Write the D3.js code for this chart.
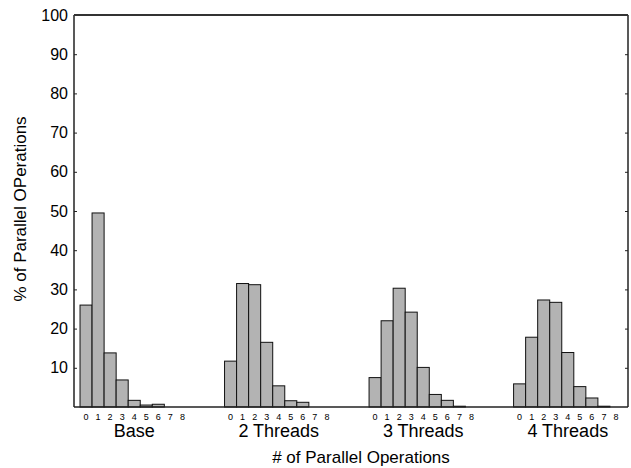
<!DOCTYPE html>
<html><head><meta charset="utf-8">
<script src="https://cdn.jsdelivr.net/npm/d3@7"></script>
<style>body{margin:0;background:#fff}svg{display:block}text{font-family:"Liberation Sans",Arial,sans-serif;fill:#000}</style>
</head><body><svg id="c" width="631" height="468"></svg>
<script>
const groups = ["Base", "2 Threads", "3 Threads", "4 Threads"];
const binLabels = ["0","1","2","3","4","5","6","7","8"];
const baseVals    = [26.0, 49.5, 13.8, 6.9, 1.7, 0.5, 0.7, 0, 0];
const threads2    = [11.7, 31.5, 31.2, 16.5, 5.4, 1.6, 1.2, 0, 0];
const threads3    = [7.5, 22.0, 30.3, 24.2, 10.1, 3.2, 1.7, 0.2, 0];
const threads4    = [5.9, 17.8, 27.3, 26.7, 13.9, 5.2, 2.3, 0.2, 0];
const yTicks = [10,20,30,40,50,60,70,80,90,100];
const series = [baseVals, threads2, threads3, threads4];

const svg = d3.select("#c");
const L=74, R=628, T=15, B=407;
const slotsPerGroup = 12;
const x = d3.scaleLinear().domain([-1, 45]).range([L, R]);
const y = d3.scaleLinear().domain([0, 100]).range([B, T]);
const bw = x(1) - x(0);

// bars
series.forEach((vals, gi) => {
  const g = svg.append("g");
  g.selectAll("rect").data(vals.map((v,i)=>({v,i}))).enter()
    .filter(d => d.v > 0)
    .append("rect")
    .attr("x", d => x(gi*slotsPerGroup + d.i) - bw/2)
    .attr("width", bw)
    .attr("y", d => y(d.v))
    .attr("height", d => y(0) - y(d.v))
    .attr("fill", "#b3b3b3").attr("stroke", "#111").attr("stroke-width", 1);
  g.selectAll("text.bin").data(binLabels).enter().append("text")
    .attr("class","bin")
    .attr("x", (d,i) => x(gi*slotsPerGroup + i))
    .attr("y", 420).attr("text-anchor","middle").attr("font-size", 9).text(d=>d);
  svg.append("text").attr("x", x(gi*slotsPerGroup + 4)).attr("y", 437)
    .attr("text-anchor","middle").attr("font-size", 18).text(groups[gi]);
});

// axes
const yAxisL = d3.axisLeft(y).tickValues(yTicks).tickSizeInner(-3).tickSizeOuter(0).tickPadding(6);
const gL = svg.append("g").attr("transform", `translate(${L},0)`).call(yAxisL);
gL.select(".domain").remove();
gL.selectAll("text").attr("font-size", 16).attr("font-family", '"Liberation Sans",Arial,sans-serif').attr("fill","#000");
gL.selectAll("line").attr("stroke","#222");
const yAxisR = d3.axisRight(y).tickValues(yTicks).tickSizeInner(-3).tickSizeOuter(0).tickFormat("");
const gR = svg.append("g").attr("transform", `translate(${R},0)`).call(yAxisR);
gR.select(".domain").remove();
gR.selectAll("line").attr("stroke","#222");

// frame lines: left, right, top, bottom
svg.append("line").attr("x1",L).attr("x2",L).attr("y1",T).attr("y2",B).attr("stroke","#222").attr("stroke-width",1.5);
svg.append("line").attr("x1",R).attr("x2",R).attr("y1",T).attr("y2",B).attr("stroke","#222").attr("stroke-width",1.5);
svg.append("line").attr("x1",L).attr("x2",R).attr("y1",T).attr("y2",T).attr("stroke","#333").attr("stroke-width",2);
svg.append("line").attr("x1",L).attr("x2",R).attr("y1",B).attr("y2",B).attr("stroke","#222").attr("stroke-width",1.5);

// titles
svg.append("text").attr("x", 361).attr("y", 463).attr("text-anchor","middle").attr("font-size",17).text("# of Parallel Operations");
svg.append("text").attr("transform","translate(26,209) rotate(-90)").attr("text-anchor","middle").attr("font-size",17).text("% of Parallel OPerations");
</script></body></html>
